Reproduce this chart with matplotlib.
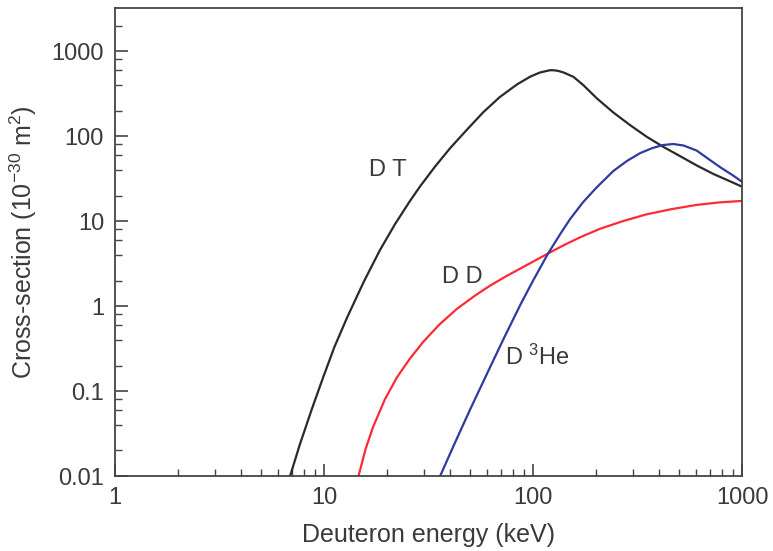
import matplotlib
matplotlib.use("Agg")
import matplotlib.pyplot as plt
from matplotlib.ticker import FixedLocator, LogLocator, NullFormatter

plt.rcParams["font.family"] = ["Liberation Sans", "DejaVu Sans"]
plt.rcParams["mathtext.fontset"] = "custom"
plt.rcParams["mathtext.rm"] = "Liberation Sans"
plt.rcParams["mathtext.it"] = "Liberation Sans:italic"

# Deuteron energy (keV) and cross-section (10^-30 m^2)
dt_energy = [6.87, 7.67, 8.71, 9.89, 11.2, 12.9, 15.5, 18.5, 21.9, 25.8, 28.8, 33.9,
             40.1, 47.9, 57.7, 69.2, 83.8, 96.8, 108, 120.5, 126, 132, 140, 156, 174,
             202, 242, 291, 350, 420, 505, 607, 729, 877, 1000]
dt_sigma = [0.01, 0.024, 0.0603, 0.145, 0.331, 0.741, 1.95, 4.57, 9.33, 17.4, 25.7, 43.7,
            72.4, 117, 191, 288, 407, 501, 562, 597, 596, 586, 561, 499, 398,
            278, 190, 135, 98.2, 74.8, 58.2, 45.2, 35.9, 29.4, 25.4]

dd_energy = [14.6, 15.8, 17.1, 19.5, 22.3, 25.7, 29.8, 35.5, 43.3, 52.5, 62.2, 74.1,
             89.5, 118, 141, 168, 209, 269, 348, 457, 603, 776, 1000]
dd_sigma = [0.01, 0.0209, 0.0372, 0.0794, 0.145, 0.24, 0.38, 0.603, 0.933, 1.32, 1.74, 2.24,
            2.88, 4.17, 5.25, 6.46, 8.13, 10.0, 12.0, 13.8, 15.5, 16.6, 17.3]

dhe_energy = [35.9, 41.7, 50.1, 60.3, 72.4, 87.1, 100, 118, 135, 150, 173, 200, 242,
              282, 325, 372, 417, 468, 525, 607, 692, 785, 908, 1000]
dhe_sigma = [0.01, 0.0229, 0.0617, 0.162, 0.417, 1.05, 2.0, 4.17, 7.08, 10.5, 16.6, 24.5, 38.9,
             51.3, 63.1, 72.4, 78.5, 80.9, 77.6, 67.6, 53.7, 43.2, 34.3, 29.0]

x_ticks = [1, 10, 100, 1000]
x_labels = ["1", "10", "100", "1000"]
y_ticks = [0.01, 0.1, 1, 10, 100, 1000]
y_labels = ["0.01", "0.1", "1", "10", "100", "1000"]

text_col = "#3a3a3a"
fig = plt.figure(figsize=(7.73, 5.51), dpi=100)
ax = fig.add_axes([0.149, 0.136, 0.811, 0.849])

ax.plot(dt_energy, dt_sigma, color="#2a2a2a", lw=1.6)
ax.plot(dd_energy, dd_sigma, color="#ff2a36", lw=1.6)
ax.plot(dhe_energy, dhe_sigma, color="#2e3a9e", lw=1.6)

ax.set_xscale("log")
ax.set_yscale("log")
ax.set_xlim(1, 1000)
ax.set_ylim(0.01, 3200)

ax.xaxis.set_major_locator(FixedLocator(x_ticks))
ax.set_xticklabels(x_labels)
ax.xaxis.set_minor_locator(LogLocator(base=10, subs=[2, 3, 4, 5, 6, 7, 8, 9]))
ax.xaxis.set_minor_formatter(NullFormatter())
ax.yaxis.set_major_locator(FixedLocator(y_ticks))
ax.set_yticklabels(y_labels)
ax.yaxis.set_minor_locator(LogLocator(base=10, subs=[2, 4, 6, 8]))
ax.yaxis.set_minor_formatter(NullFormatter())

ax.tick_params(which="both", direction="in", colors="#444444", labelcolor=text_col,
               labelsize=17, top=False, right=False)
ax.tick_params(which="major", length=9, width=1.2, pad=8)
ax.tick_params(which="minor", length=5, width=1.0)
for s in ax.spines.values():
    s.set_color("#444444")
    s.set_linewidth(1.3)

ax.set_xlabel("Deuteron energy (keV)", fontsize=18, color=text_col, labelpad=10)
ax.set_ylabel(r"Cross-section (10$^{-30}$ m$^{2}$)", fontsize=18, color=text_col, labelpad=9)

ax.text(20.2, 40, "D T", fontsize=17, color=text_col, ha="center", va="center")
ax.text(45.8, 2.19, "D D", fontsize=17, color=text_col, ha="center", va="center")
ax.text(104.5, 0.25, r"D $^{3}$He", fontsize=17, color=text_col, ha="center", va="center")

fig.savefig("out.png", dpi=100)
